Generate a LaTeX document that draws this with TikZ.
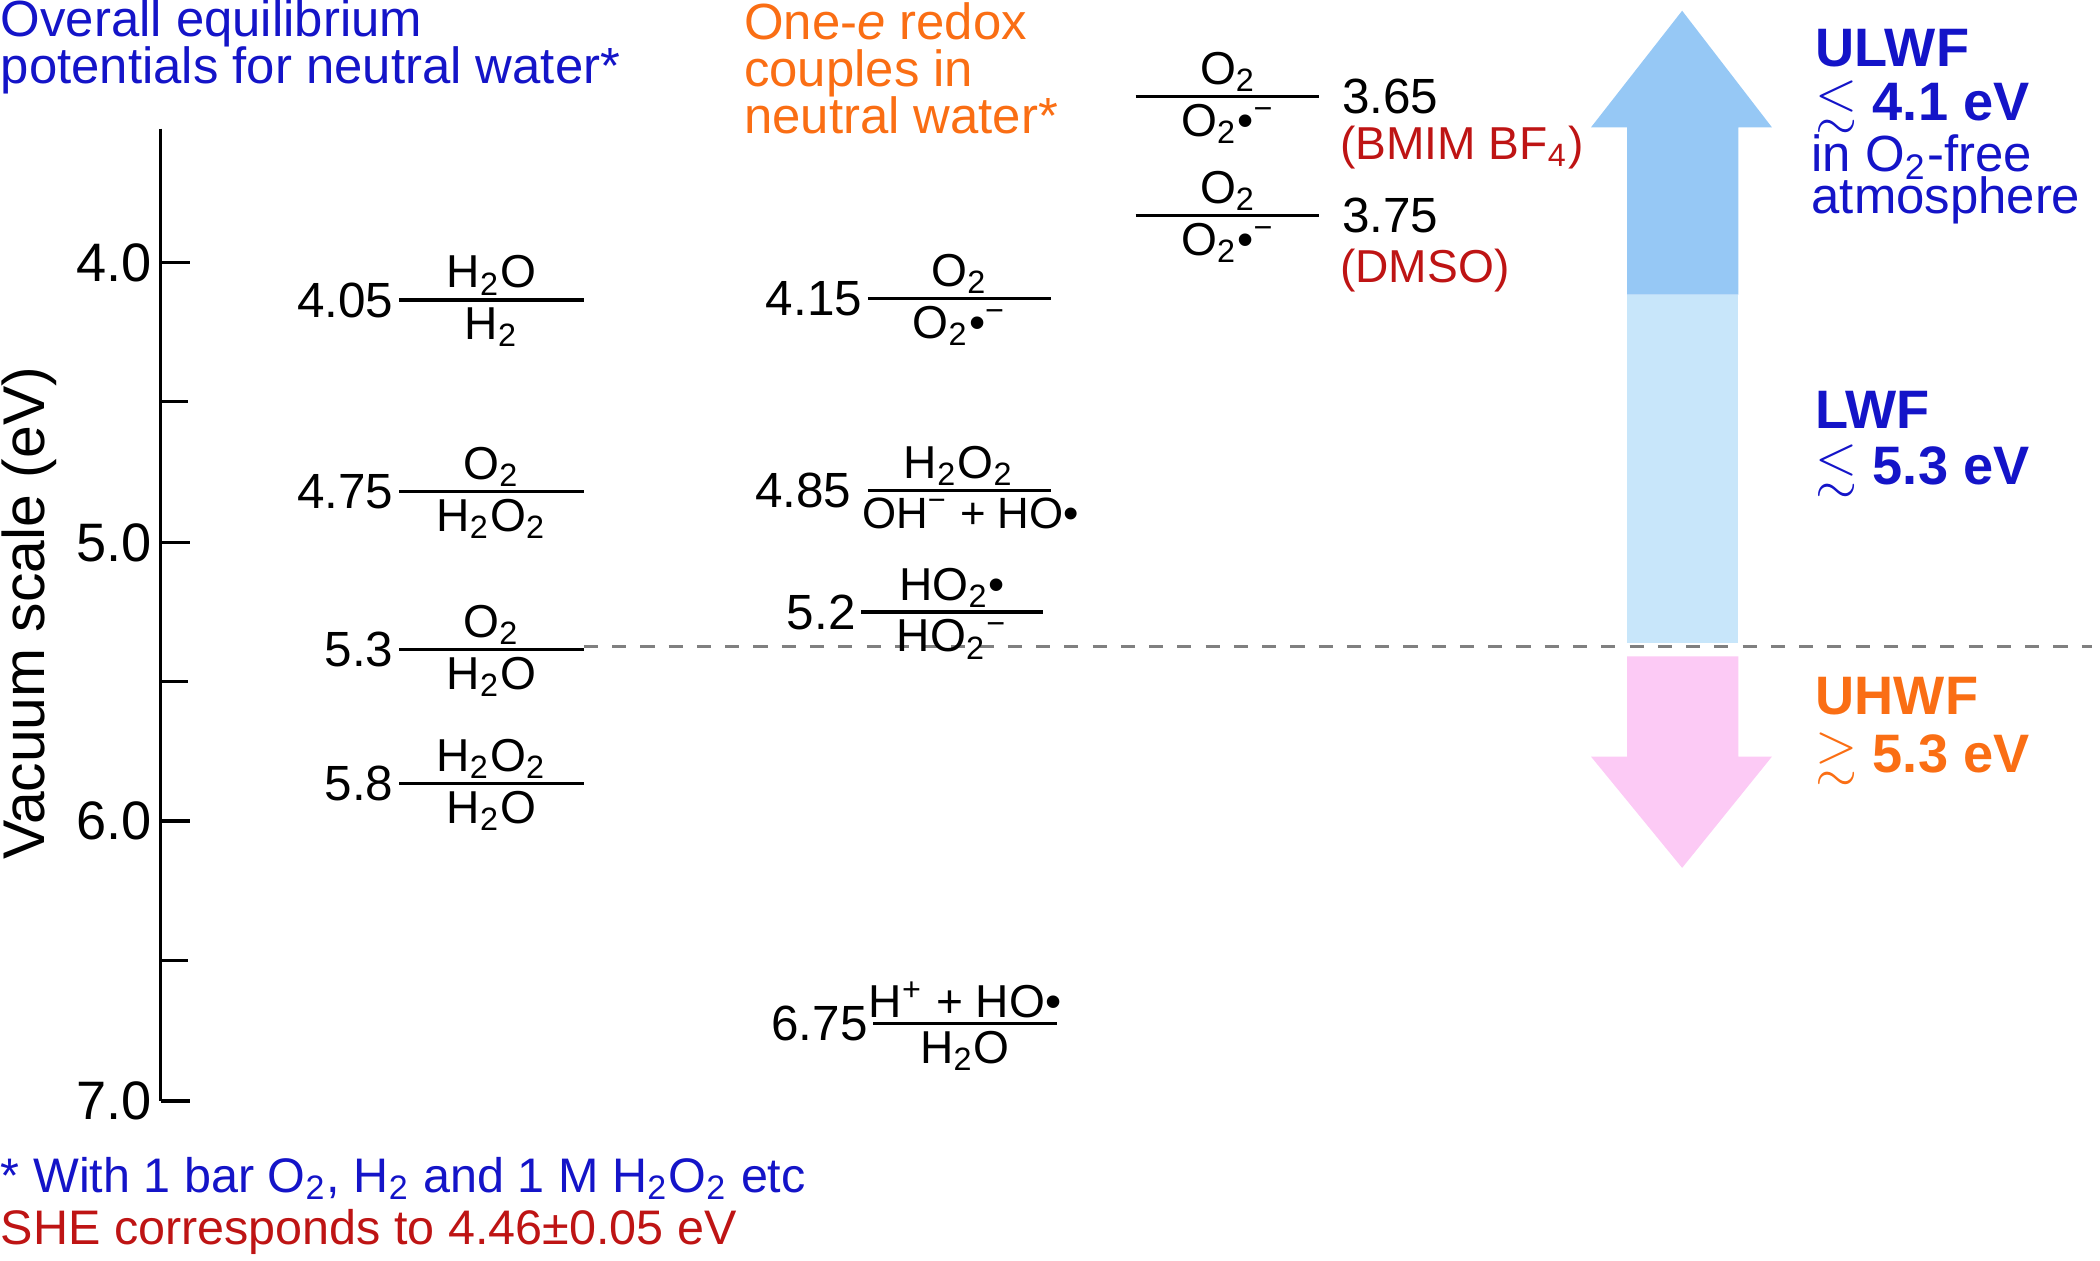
\documentclass[tikz,border=0pt]{standalone}
\usepackage{amssymb}
\usepackage{fontspec}
\setmainfont{Liberation Sans}
\newcommand\sbs[1]{\textsubscript{#1}}
\newcommand\sps[1]{\textsuperscript{#1}}
\newcommand\rad{\textbullet}
\definecolor{tblue}{RGB}{20,20,200}
\definecolor{torange}{RGB}{250,110,20}
\definecolor{tred}{RGB}{190,20,20}
\definecolor{lblue}{RGB}{200,230,250}
\definecolor{dblue}{RGB}{150,200,245}
\definecolor{lpink}{RGB}{252,202,245}
\begin{document}
\begin{tikzpicture}[x=0.01cm,y=-0.01cm,
  lvl/.style={line width=0.7pt},
  num/.style={inner sep=1pt,font=\fontsize{10.5}{11}\selectfont},
  frac/.style={inner sep=0pt,font=\fontsize{9.8}{11}\selectfont},
  big/.style={inner sep=0pt,font=\fontsize{10.8}{11}\selectfont},
  hd/.style={inner sep=0pt,align=left,anchor=west,font=\fontsize{11.5}{12}\selectfont\bfseries}]
\useasboundingbox (0,0) rectangle (1568,941);
% axis
\draw[lvl] (120,96) -- (120,822);
\foreach \y/\l in {196/4.0,405/5.0,613/6.0,822/7.0}{
  \draw[lvl] (120,\y) -- (142,\y);
  \node[big,anchor=east,font=\fontsize{11.5}{12}\selectfont] (t\l) at (114,\y) {\l};}
\foreach \y in {300,509,717} \draw[lvl] (120,\y) -- (140,\y);
\node[big,rotate=90,font=\fontsize{12.5}{13}\selectfont] (axl) at (22,458) {Vacuum scale (eV)};
% titles
\node[big,anchor=west,align=left,text=tblue] (h1) at (0,35) {Overall equilibrium\\[-1pt]potentials for neutral water*};
\node[big,anchor=west,align=left,text=torange] (h2) at (555,51) {One-\textit{e} redox\\[-1pt]couples in\\[-1pt]neutral water*};
% dashed
\draw[gray,dashed,line width=0.6pt] (436,483) -- (1562,483);
% arrows
\fill[lblue] (1215,480) rectangle (1298,220);
\fill[dblue] (1215,220) -- (1215,95) -- (1188,95) -- (1256,8) -- (1323,95) -- (1298,95) -- (1298,220) -- cycle;
\fill[lpink] (1215,490) -- (1298,490) -- (1298,565) -- (1323,565) -- (1256,648) -- (1188,565) -- (1215,565) -- cycle;
% levels macro
\newcommand\level[7]{% name, x1, x2, y, number, numerator, denominator
  \draw[lvl] (#2,#4) -- (#3,#4);
  \node[num,anchor=east] (#1n) at (#2,#4) {#5};
  \node[frac,anchor=south] (#1a) at ({(#2+#3)/2},{#4-3}) {#6};
  \node[frac,anchor=north] (#1b) at ({(#2+#3)/2},{#4+5}) {#7};}
\level{a}{298}{436}{224}{4.05}{H\sbs{2}O}{H\sbs{2}}
\level{b}{298}{436}{367}{4.75}{O\sbs{2}}{H\sbs{2}O\sbs{2}}
\level{c}{298}{436}{485}{5.3}{O\sbs{2}}{H\sbs{2}O}
\level{d}{298}{436}{585}{5.8}{H\sbs{2}O\sbs{2}}{H\sbs{2}O}
\level{e}{648}{785}{223}{4.15}{O\sbs{2}}{O\sbs{2}\rad\sps{−}}
% 4.85 level (custom to avoid overlap)
\draw[lvl] (648,366) -- (785,366);
\node[num,anchor=east] (fn) at (640,366) {4.85};
\node[frac,anchor=south] (fa) at (716,363) {H\sbs{2}O\sbs{2}};
\node[frac,anchor=north west,font=\fontsize{9.3}{11}\selectfont] (fb) at (643,371) {OH\sps{−} + HO\rad};
\level{g}{643}{779}{457}{5.2}{HO\sbs{2}\rad}{HO\sbs{2}\sps{−}}
\level{h}{652}{789}{764}{6.75}{H\sps{+} + HO\rad}{H\sbs{2}O}
% column 3
\draw[lvl] (848,72) -- (985,72);
\node[frac,anchor=south] (ia) at (917,69) {O\sbs{2}};
\node[frac,anchor=north] (ib) at (917,77) {O\sbs{2}\rad\sps{−}};
\node[num,anchor=west] (in) at (998,72) {3.65};
\node[frac,anchor=west,text=tred] (ic) at (1000,110) {(BMIM BF\sbs{4})};
\draw[lvl] (848,161) -- (985,161);
\node[frac,anchor=south] (ja) at (917,158) {O\sbs{2}};
\node[frac,anchor=north] (jb) at (917,166) {O\sbs{2}\rad\sps{−}};
\node[num,anchor=west] (jn) at (998,161) {3.75};
\node[frac,anchor=west,text=tred] (jc) at (1000,202) {(DMSO)};
% right labels
\node[hd,text=tblue] (u1) at (1355,36) {ULWF};
\node[hd,text=tblue] (u2) at (1355,80) {$\lesssim$ 4.1 eV};
\node[big,anchor=west,align=left,text=tblue] (u3) at (1352,134) {in O\sbs{2}-free\\[-2pt]atmosphere};
\node[hd,text=tblue] (l1) at (1355,306) {LWF};
\node[hd,text=tblue] (l2) at (1355,352) {$\lesssim$ 5.3 eV};
\node[hd,text=torange] (o1) at (1355,520) {UHWF};
\node[hd,text=torange] (o2) at (1355,567) {$\gtrsim$ 5.3 eV};
% footnotes
\node[big,anchor=west,text=tblue,font=\fontsize{10.3}{11}\selectfont] (f1) at (0,880) {* With 1 bar O\sbs{2}, H\sbs{2} and 1 M H\sbs{2}O\sbs{2} etc};
\node[big,anchor=west,text=tred,font=\fontsize{10.3}{11}\selectfont] (f2) at (0,920) {SHE corresponds to 4.46±0.05 eV};
\end{tikzpicture}
\end{document}
